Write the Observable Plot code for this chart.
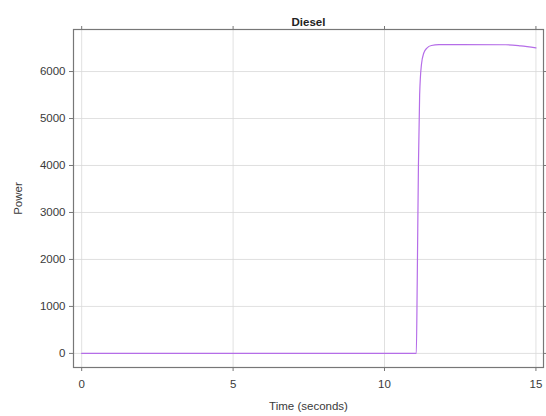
<!DOCTYPE html>
<html>
<head>
<meta charset="utf-8">
<script src="https://cdn.jsdelivr.net/npm/d3@7"></script>
<script src="https://cdn.jsdelivr.net/npm/@observablehq/plot@0.6"></script>
<style>
  html, body { margin: 0; padding: 0; background: #fff; }
</style>
</head>
<body>
<div id="chart"></div>
<script>
const title = "Diesel";
const xLabel = "Time (seconds)";
const yLabel = "Power";
const xTicks = [0, 5, 10, 15];
const yTicks = [0, 1000, 2000, 3000, 4000, 5000, 6000];
const time  = [0, 11.05, 11.08, 11.12, 11.16, 11.22, 11.3, 11.4, 11.55, 11.8, 12.5, 14.0, 14.5, 15];
const power = [0, 0, 1500, 4000, 5500, 6150, 6400, 6500, 6555, 6572, 6575, 6570, 6545, 6505];

const data = time.map((t, i) => ({t, p: power[i]}));
const gray = "#3a3a3a";
const fmt = d3.format("d");

const chart = Plot.plot({
  width: 546,
  height: 416,
  marginLeft: 73,
  marginRight: 3,
  marginTop: 29,
  marginBottom: 49,
  style: {fontFamily: "Liberation Sans, Arial, sans-serif", fontSize: "11.5px", color: gray, background: "#fff"},
  x: {domain: [-0.27, 15.25]},
  y: {domain: [-300, 6895]},
  marks: [
    Plot.gridX(xTicks, {stroke: "#d8d8d8", strokeOpacity: 0.8}),
    Plot.gridY(yTicks, {stroke: "#d8d8d8", strokeOpacity: 0.8}),
    Plot.frame({stroke: "#777", strokeWidth: 1.2}),
    Plot.axisX(xTicks, {anchor: "bottom", tickSize: 4, tickPadding: 8, fontSize: 11.5, tickFormat: fmt, label: xLabel, labelAnchor: "center", labelArrow: "none", labelOffset: 42, stroke: "#777"}),
    Plot.axisX(xTicks, {anchor: "top", tickSize: 4, tickFormat: () => "", label: null, stroke: "#777"}),
    Plot.axisY(yTicks, {anchor: "left", tickSize: 4, tickPadding: 4, fontSize: 11.5, tickFormat: fmt, label: yLabel, labelAnchor: "center", labelArrow: "none", labelOffset: 60, stroke: "#777"}),
    Plot.axisY(yTicks, {anchor: "right", tickSize: 4, tickFormat: () => "", label: null, stroke: "#777"}),
    Plot.line(data, {x: "t", y: "p", stroke: "#b56de8", strokeWidth: 1.2, curve: "monotone-x"}),
    Plot.text([title], {frameAnchor: "top", dy: -12, fontWeight: "bold", fontSize: 11.5, fill: "#222"})
  ]
});
document.getElementById("chart").appendChild(chart);
</script>
</body>
</html>
